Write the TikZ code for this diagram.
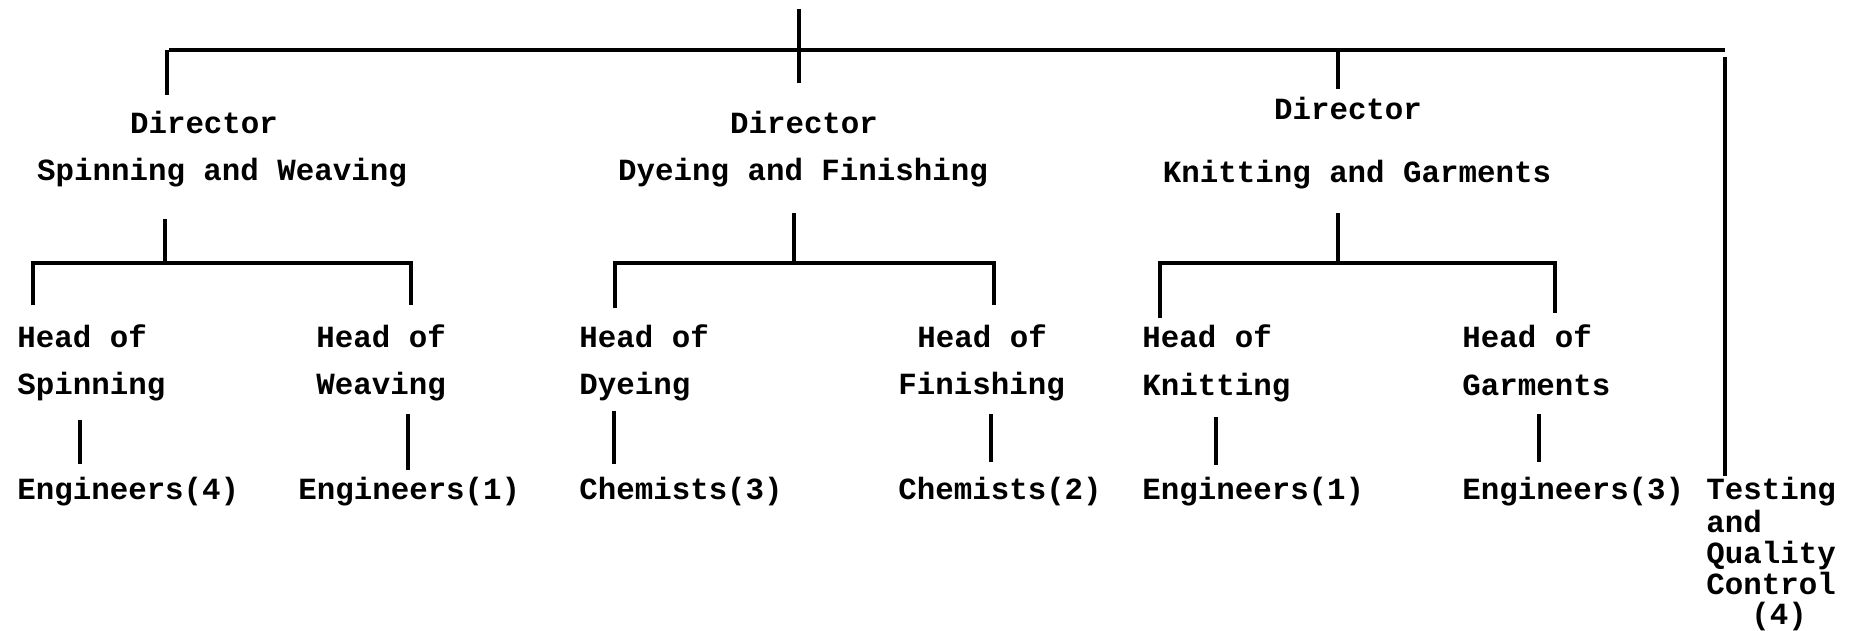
\documentclass[tikz,border=0pt]{standalone}
\usepackage{fontspec}
\setmonofont{Liberation Mono}
\begin{document}
\begin{tikzpicture}[x=0.5pt,y=-0.5pt,
  lbl/.style={font=\ttfamily\bfseries\fontsize{15.4}{18}\selectfont,inner sep=0pt,anchor=mid west,yshift=-3pt},
  ctr/.style={lbl,anchor=mid},
  link/.style={draw=black,line width=1.8pt}]
\useasboundingbox (0,0) rectangle (1856,631);
% ---- directors
\node[ctr] (d1a) at (204,123) {Director};
\node[ctr] (d1b) at (222,170) {Spinning and Weaving};
\node[ctr] (d2a) at (804,123) {Director};
\node[ctr] (d2b) at (803,170) {Dyeing and Finishing};
\node[ctr] (d3a) at (1348,109) {Director};
\node[ctr] (d3b) at (1357,172) {Knitting and Garments};
% ---- heads
\node[lbl] (h1a) at (17,337) {Head of};
\node[lbl] (h1b) at (17,384) {Spinning};
\node[lbl] (h2a) at (316,337) {Head of};
\node[lbl] (h2b) at (316,384) {Weaving};
\node[lbl] (h3a) at (579,337) {Head of};
\node[lbl] (h3b) at (579,384) {Dyeing};
\node[lbl] (h4a) at (917,337) {Head of};
\node[lbl] (h4b) at (898,384) {Finishing};
\node[lbl] (h5a) at (1142,337) {Head of};
\node[lbl] (h5b) at (1142,385) {Knitting};
\node[lbl] (h6a) at (1462,337) {Head of};
\node[lbl] (h6b) at (1462,385) {Garments};
% ---- staff
\node[lbl] (s1) at (17,489) {Engineers(4)};
\node[lbl] (s2) at (298,489) {Engineers(1)};
\node[lbl] (s3) at (579,489) {Chemists(3)};
\node[lbl] (s4) at (898,489) {Chemists(2)};
\node[lbl] (s5) at (1142,489) {Engineers(1)};
\node[lbl] (s6) at (1462,489) {Engineers(3)};
\node[lbl] (t1) at (1706,489) {Testing};
\node[lbl] (t2) at (1706,522) {and};
\node[lbl] (t3) at (1706,553) {Quality};
\node[lbl] (t4) at (1706,584) {Control};
\node[lbl] (t5) at (1751,614) {(4)};
% ---- connector points
\coordinate (top) at (799,9);
\coordinate (topE) at (799,83);
\coordinate (barL) at (169,50);
\coordinate (barR) at (1725,50);
\coordinate (tq1) at (1725,57);
\coordinate (tq2) at (1725,476);
\coordinate (a1) at (167,50);  \coordinate (a2) at (167,95);
\coordinate (c1) at (1338,50); \coordinate (c2) at (1338,89);
% director 1 subtree
\coordinate (e1) at (165,219); \coordinate (e2) at (165,263);
\coordinate (f1) at (33,263);  \coordinate (f2) at (411,263);
\coordinate (f1d) at (33,305); \coordinate (f2d) at (411,305);
% director 2 subtree
\coordinate (g1) at (794,213); \coordinate (g2) at (794,263);
\coordinate (k1) at (615,263); \coordinate (k2) at (994,263);
\coordinate (k1d) at (615,308); \coordinate (k2d) at (994,305);
% director 3 subtree
\coordinate (m1) at (1338,213); \coordinate (m2) at (1338,263);
\coordinate (n1) at (1160,263); \coordinate (n2) at (1555,263);
\coordinate (n1d) at (1160,318); \coordinate (n2d) at (1555,313);
% staff stubs
\coordinate (p1a) at (80,420);   \coordinate (p1b) at (80,464);
\coordinate (p2a) at (408,414);  \coordinate (p2b) at (408,470);
\coordinate (p3a) at (614,411);  \coordinate (p3b) at (614,464);
\coordinate (p4a) at (991,414);  \coordinate (p4b) at (991,462);
\coordinate (p5a) at (1216,417); \coordinate (p5b) at (1216,465);
\coordinate (p6a) at (1539,414); \coordinate (p6b) at (1539,462);
% ---- lines
\draw[link] (top) -- (topE);
\draw[link] (barL) -- (barR);
\draw[link] (a1) -- (a2);
\draw[link] (c1) -- (c2);
\draw[link] (tq1) -- (tq2);
\draw[link] (e1) -- (e2);
\draw[link] (f1d) -- (f1) -- (f2) -- (f2d);
\draw[link] (g1) -- (g2);
\draw[link] (k1d) -- (k1) -- (k2) -- (k2d);
\draw[link] (m1) -- (m2);
\draw[link] (n1d) -- (n1) -- (n2) -- (n2d);
\draw[link] (p1a) -- (p1b);
\draw[link] (p2a) -- (p2b);
\draw[link] (p3a) -- (p3b);
\draw[link] (p4a) -- (p4b);
\draw[link] (p5a) -- (p5b);
\draw[link] (p6a) -- (p6b);
\end{tikzpicture}
\end{document}
